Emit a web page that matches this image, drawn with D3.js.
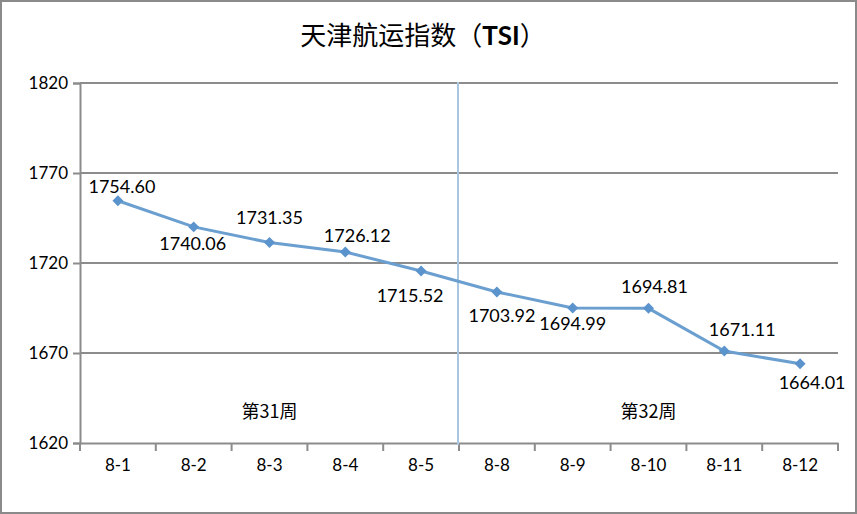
<!DOCTYPE html>
<html>
<head>
<meta charset="utf-8">
<script src="https://cdnjs.cloudflare.com/ajax/libs/d3/7.8.5/d3.min.js"></script>
<style>
  body { margin: 0; background: #fff; }
  text { font-family: Lato, "Noto Sans CJK SC", sans-serif; fill: #000; }
</style>
</head>
<body>
<script>
var dates = ["8-1", "8-2", "8-3", "8-4", "8-5", "8-8", "8-9", "8-10", "8-11", "8-12"];
var values = [1754.60, 1740.06, 1731.35, 1726.12, 1715.52, 1703.92, 1694.99, 1694.81, 1671.11, 1664.01];
var yTicks = [1620, 1670, 1720, 1770, 1820];
var weeks = [
  { name: "第31周", from: 0, to: 4 },
  { name: "第32周", from: 5, to: 9 }
];
// hand placed data labels, [dx, dy] from the marker to the label baseline
var labelOffset = [[4, -8], [-1, 23], [0, -19], [12, -10], [-11, 31], [5, 30], [0, 22], [6, -15], [18, -15], [12, 25]];

var width = 857, height = 514;
var margin = { left: 80, right: 19, top: 83, bottom: 71 };

var svg = d3.select("body").append("svg")
  .attr("width", width)
  .attr("height", height);

svg.append("rect")
  .attr("x", 1).attr("y", 1)
  .attr("width", width - 2).attr("height", height - 2)
  .attr("fill", "#fff")
  .attr("stroke", "#8a8a8a")
  .attr("stroke-width", 2);

var x = d3.scaleBand()
  .domain(dates)
  .range([margin.left, width - margin.right]);

var y = d3.scaleLinear()
  .domain([1620, 1820])
  .range([height - margin.bottom, margin.top]);

// title
svg.append("text")
  .attr("x", 423).attr("y", 45)
  .attr("text-anchor", "middle")
  .style("font-size", "26px")
  .style("font-family", "'Noto Sans CJK SC', sans-serif")
  .html("天津航运指数（<tspan style='font-weight:bold;font-family:Lato'>TSI</tspan>）");

// gridlines
svg.append("g").selectAll("line")
  .data(yTicks.slice(1))
  .enter().append("line")
  .attr("x1", margin.left)
  .attr("x2", width - margin.right)
  .attr("y1", function(d){ return y(d); })
  .attr("y2", function(d){ return y(d); })
  .attr("stroke", "#8c8c8c")
  .attr("stroke-width", 2);

// y axis
var yAxis = svg.append("g")
  .attr("transform", "translate(" + margin.left + ",0)")
  .call(d3.axisLeft(y).tickValues(yTicks).tickSize(7).tickPadding(5).tickFormat(d3.format("d")));
yAxis.select(".domain").attr("stroke", "#8c8c8c").attr("stroke-width", 2);
yAxis.selectAll(".tick line").attr("stroke", "#8c8c8c").attr("stroke-width", 2);
yAxis.selectAll("text").style("font-size", "17px").style("font-family", "Lato");

// x axis
var xAxis = svg.append("g")
  .attr("transform", "translate(0," + (height - margin.bottom) + ")")
  .call(d3.axisBottom(x).tickSize(0).tickPadding(16));
xAxis.select(".domain").attr("stroke", "#8c8c8c").attr("stroke-width", 2);
xAxis.selectAll("text").style("font-size", "17px").style("font-family", "Lato");

var bounds = dates.map(function(d){ return x(d); }).concat([x.range()[1]]);
xAxis.selectAll(".bt")
  .data(bounds)
  .enter().append("line")
  .attr("x1", function(d){ return d; })
  .attr("x2", function(d){ return d; })
  .attr("y1", 0).attr("y2", 8)
  .attr("stroke", "#8c8c8c")
  .attr("stroke-width", 2);

// week divider
var divX = x(dates[weeks[1].from]) - 1;
svg.append("line")
  .attr("x1", divX).attr("x2", divX)
  .attr("y1", margin.top - 1)
  .attr("y2", height - margin.bottom + 2)
  .attr("stroke", "#a9c7e0")
  .attr("stroke-width", 2);

// week labels
svg.selectAll(".week")
  .data(weeks)
  .enter().append("text")
  .attr("x", function(d){ return (x(dates[d.from]) + x(dates[d.to]) + x.bandwidth()) / 2; })
  .attr("y", 418)
  .attr("text-anchor", "middle")
  .style("font-size", "18px")
  .style("font-family", "'Noto Sans CJK SC', sans-serif")
  .text(function(d){ return d.name; });

// line
var cx = function(d, i){ return x(dates[i]) + x.bandwidth() / 2; };
var line = d3.line()
  .x(cx)
  .y(function(d){ return y(d); });

svg.append("path")
  .datum(values)
  .attr("d", line)
  .attr("fill", "none")
  .attr("stroke", "#6a9fd0")
  .attr("stroke-width", 3);

svg.selectAll(".pt")
  .data(values)
  .enter().append("path")
  .attr("d", d3.symbol().type(d3.symbolSquare).size(60))
  .attr("transform", function(d, i){ return "translate(" + cx(d, i) + "," + y(d) + ") rotate(45)"; })
  .attr("fill", "#5b93cc");

svg.selectAll(".lbl")
  .data(values)
  .enter().append("text")
  .attr("x", function(d, i){ return cx(d, i) + labelOffset[i][0]; })
  .attr("y", function(d, i){ return y(d) + labelOffset[i][1]; })
  .attr("text-anchor", "middle")
  .style("font-size", "18px")
  .style("font-family", "Lato")
  .text(function(d){ return d.toFixed(2); });
</script>
</body>
</html>
